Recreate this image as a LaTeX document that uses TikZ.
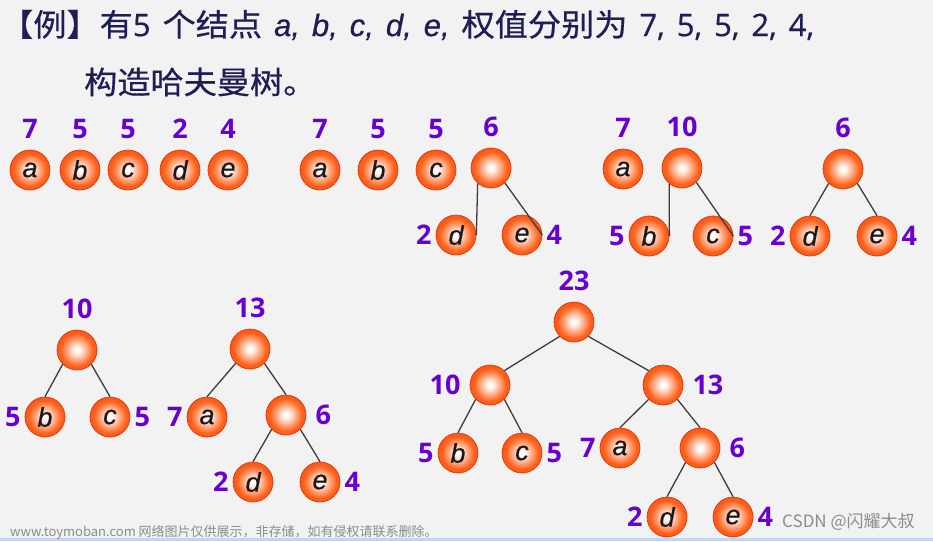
\documentclass[tikz,border=0pt]{standalone}
\usepackage{fontspec}
\setmainfont{Open Sans}
\newfontfamily\cjk{Noto Sans CJK SC}
\newfontfamily\cjkhead{Noto Sans CJK SC}[FakeStretch=1.07, FakeBold=0.6]
\newfontfamily\headfont{Open Sans}[FakeBold=0.6]
\newfontfamily\headletters{Liberation Sans}[FakeBold=0.6]
\newfontfamily\lettersf{Liberation Sans}[FakeBold=0.4]
\newfontfamily\wtfont{Open Sans}
\usetikzlibrary{positioning}

\definecolor{paper}{RGB}{242,242,242}
\definecolor{headink}{RGB}{30,30,84}
\definecolor{wtpurple}{RGB}{104,0,210}
\definecolor{ballcore}{RGB}{255,244,238}
\definecolor{ballmid}{RGB}{255,100,30}
\definecolor{ballrim}{RGB}{232,58,10}
\definecolor{ballline}{RGB}{220,56,12}
\definecolor{branchgray}{RGB}{60,60,60}
\definecolor{wmgray}{RGB}{140,140,140}
\definecolor{stripblue}{RGB}{190,215,242}

\pgfdeclareradialshading{ballshade}{\pgfpoint{0bp}{0bp}}{%
  color(0bp)=(white); color(4bp)=(ballcore); color(20bp)=(ballmid);
  color(36bp)=(ballrim); color(50bp)=(ballrim)}

\tikzset{
  ball/.style   = {circle, minimum size=40pt, inner sep=0pt, shading=ballshade,
                   draw=ballline, line width=0.7pt, text=black!90,
                   font=\lettersf\itshape\fontsize{27}{27}\selectfont},
  wt/.style     = {text=wtpurple, inner sep=0pt,
                   font=\wtfont\bfseries\fontsize{27}{27}\selectfont},
  branch/.style = {draw=branchgray, line width=1.3pt},
  headline/.style = {anchor=west, inner sep=0pt, text=headink,
                   font=\headfont\fontsize{31}{34}\selectfont},
  wmark/.style  = {anchor=west, inner sep=0pt, text=wmgray}
}
\newcommand{\leafgap}{4pt}
\newcommand{\innergap}{9pt}
\newcommand{\widespaces}{\spaceskip=12pt plus 2pt\relax}

\begin{document}
\begin{tikzpicture}[x=1pt, y=-1pt]
\useasboundingbox (0,0) rectangle (933,541);
\fill[paper] (0,0) rectangle (933,541);
\fill[stripblue] (0,538) rectangle (933,541);

% heading
\node[headline] (head1) at (0,25) {\widespaces{\cjkhead 【例】有}5 {\cjkhead 个结点}
  {\headletters\itshape a, b, c, d, e,} {\cjkhead 权值分别为} 7, 5, 5, 2, 4,};
\node[headline] (head2) at (84,82) {\cjkhead 构造哈夫曼树。};

% step 1: five single nodes
\node[ball] (a1) at (30,170) {a};
\node[ball] (b1) at (80,170) {b};
\node[ball] (c1) at (128,170) {c};
\node[ball] (d1) at (180,170) {d};
\node[ball] (e1) at (228,170) {e};

% step 2: d and e joined
\node[ball] (a2) at (320,170) {a};
\node[ball] (b2) at (378,170) {b};
\node[ball] (c2) at (436,170) {c};
\node[ball] (f2) at (491,168) {};
\node[ball] (d2) at (456,235) {d};
\node[ball] (e2) at (522,235) {e};

% step 3: b and c joined
\node[ball] (a3) at (623,169) {a};
\node[ball] (g3) at (682,168) {};
\node[ball] (b3) at (649,236) {b};
\node[ball] (c3) at (713,236) {c};
\node[ball] (f3) at (843,169) {};
\node[ball] (d3) at (810,236) {d};
\node[ball] (e3) at (877,236) {e};

% step 4: a joined with the 6 tree
\node[ball] (p4) at (77,350) {};
\node[ball] (b4) at (45,417) {b};
\node[ball] (c4) at (110,417) {c};
\node[ball] (q4) at (250,349) {};
\node[ball] (a4) at (207,417) {a};
\node[ball] (f4) at (286,415) {};
\node[ball] (d4) at (253,482) {d};
\node[ball] (e4) at (320,482) {e};

% step 5: the finished tree
\node[ball] (r5) at (574,322) {};
\node[ball] (p5) at (490,385) {};
\node[ball] (q5) at (663,385) {};
\node[ball] (b5) at (458,453) {b};
\node[ball] (c5) at (522,453) {c};
\node[ball] (a5) at (620,448) {a};
\node[ball] (f5) at (700,448) {};
\node[ball] (d5) at (667,517) {d};
\node[ball] (e5) at (733,517) {e};

% weights
\begin{scope}[every node/.style={wt}]
\node[above=11pt of a1] (wa1) {7};
\node[above=11pt of b1] (wb1) {5};
\node[above=11pt of c1] (wc1) {5};
\node[above=11pt of d1] (wd1) {2};
\node[above=11pt of e1] (we1) {4};

\node[above=11pt of a2] (wa2) {7};
\node[above=11pt of b2] (wb2) {5};
\node[above=11pt of c2] (wc2) {5};
\node[above=11pt of f2] (wf2) {6};
\node[left=\leafgap of d2] (wd2) {2};
\node[right=\leafgap of e2] (we2) {4};

\node[above=11pt of a3] (wa3) {7};
\node[above=11pt of g3] (wg3) {10};
\node[left=\leafgap of b3] (wb3) {5};
\node[right=\leafgap of c3] (wc3) {5};
\node[above=11pt of f3] (wf3) {6};
\node[left=\leafgap of d3] (wd3) {2};
\node[right=\leafgap of e3] (we3) {4};

\node[above=11pt of p4] (wp4) {10};
\node[left=\leafgap of b4] (wb4) {5};
\node[right=\leafgap of c4] (wc4) {5};
\node[above=11pt of q4] (wq4) {13};
\node[left=\leafgap of a4] (wa4) {7};
\node[right=\innergap of f4] (wf4) {6};
\node[left=\leafgap of d4] (wd4) {2};
\node[right=\leafgap of e4] (we4) {4};

\node[above=11pt of r5] (wr5) {23};
\node[left=\innergap of p5] (wp5) {10};
\node[right=\innergap of q5] (wq5) {13};
\node[left=\leafgap of b5] (wb5) {5};
\node[right=\leafgap of c5] (wc5) {5};
\node[left=\leafgap of a5] (wa5) {7};
\node[right=\innergap of f5] (wf5) {6};
\node[left=\leafgap of d5] (wd5) {2};
\node[right=\leafgap of e5] (we5) {4};
\end{scope}

% branches, parent side first
\draw[branch] (f2.-131) -- (d2.east);
\draw[branch] (f2.-47) -- (e2.east);
\draw[branch] (g3.-129) -- (b3.east);
\draw[branch] (g3.-45) -- (c3.east);
\foreach \from/\to in {f3/d3, p4/b4, q4/a4, f4/d4, p5/b5, q5/a5, f5/d5}
  \draw[branch] (\from.south west) -- (\to.north);
\foreach \from/\to in {f3/e3, p4/c4, q4/f4, f4/e4, p5/c5, q5/f5, f5/e5}
  \draw[branch] (\from.south east) -- (\to.north);
\draw[branch] (r5.south west) -- (p5.north east);
\draw[branch] (r5.south east) -- (q5.north west);

% watermarks
\node[wmark, font=\cjk\fontsize{13}{13}\selectfont] (wm1) at (10,532)
  {www.toymoban.com 网络图片仅供展示，非存储，如有侵权请联系删除。};
\node[wmark, font=\cjk\fontsize{17}{17}\selectfont] (wm2) at (782,522)
  {CSDN @闪耀大叔};
\end{tikzpicture}
\end{document}
